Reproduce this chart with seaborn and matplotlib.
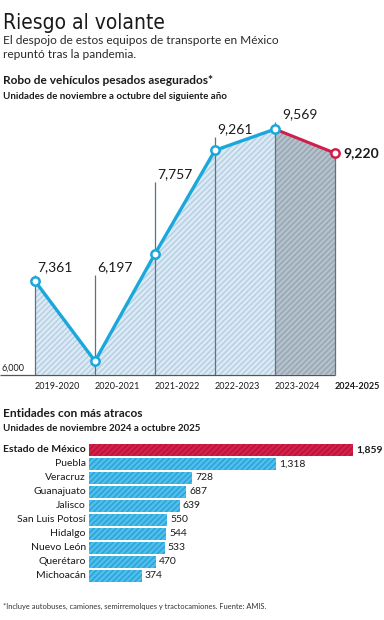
import numpy as np
import pandas as pd
import seaborn as sns
import matplotlib
matplotlib.use("Agg")
import matplotlib.pyplot as plt

# ---------------- data ----------------
periods = ["2019-2020", "2020-2021", "2021-2022", "2022-2023", "2023-2024", "2024-2025"]
robos = [7361, 6197, 7757, 9261, 9569, 9220]
robo_labels = ["7,361", "6,197", "7,757", "9,261", "9,569", "9,220"]

states = ["Estado de México", "Puebla", "Veracruz", "Guanajuato", "Jalisco",
          "San Luis Potosí", "Hidalgo", "Nuevo León", "Querétaro", "Michoacán"]
atracos = [1859, 1318, 728, 687, 639, 550, 544, 533, 470, 374]
atracos_labels = ["1,859", "1,318", "728", "687", "639", "550", "544", "533", "470", "374"]

# ---------------- style ----------------
sns.set_theme(style="white")
plt.rcParams["font.family"] = ["Lato", "DejaVu Sans"]
plt.rcParams["hatch.linewidth"] = 1.0

W, H = 384, 620
fig = plt.figure(figsize=(W / 100, H / 100), dpi=100)
fig.patch.set_facecolor("white")


def fy(px):
    return 1 - px / H


def fx(px):
    return px / W


BLUE = "#1aa7dc"
RED = "#d01f4a"
TXT = "#1a1a1a"

# ---------------- header texts ----------------
fig.text(fx(3), fy(29), "Riesgo al volante", family=["DejaVu Sans"], fontstretch="condensed",
         fontsize=15, color=TXT, va="baseline", ha="left")
fig.text(fx(3), fy(44), "El despojo de estos equipos de transporte en México",
         fontsize=8.6, color="#2a2a2a", va="baseline")
fig.text(fx(3), fy(58), "repuntó tras la pandemia.", fontsize=8.6, color="#2a2a2a", va="baseline")
fig.text(fx(3), fy(84), "Robo de vehículos pesados asegurados*", fontsize=8.6,
         fontweight="bold", color=TXT, va="baseline")
fig.text(fx(3), fy(99), "Unidades de noviembre a octubre del siguiente año", fontsize=7.0,
         fontweight="bold", color=TXT, va="baseline")

fig.text(fx(3), fy(417), "Entidades con más atracos", fontsize=8.6,
         fontweight="bold", color=TXT, va="baseline")
fig.text(fx(3), fy(431), "Unidades de noviembre 2024 a octubre 2025", fontsize=7.0,
         fontweight="bold", color=TXT, va="baseline")
fig.text(fx(3), fy(609), "*Incluye autobuses, camiones, semirremolques y tractocamiones. Fuente: AMIS.",
         fontsize=5.4, color="#333333", va="baseline")

# ---------------- line chart ----------------
ax1 = fig.add_axes([0, fy(400), 1, (400 - 95) / H])
x = np.arange(len(periods))
ax1.set_xlim(-35 / 60, (W - 35) / 60)
ax1.set_ylim(5632, 10065)
ax1.axis("off")

ax1.fill_between(x[:5], 6000, robos[:5], facecolor="#dceaf5", edgecolor="#b3cee2",
                 hatch="//////", linewidth=0, zorder=1)
ax1.fill_between(x[4:], 6000, robos[4:], facecolor="#b5c2cc", edgecolor="#95a5b2",
                 hatch="//////", linewidth=0, zorder=1)

# label offsets above the point (px) and horizontal offsets (px)
lab_up = [6, 86, 72, 13, 7, 0]
lab_dx = [2, 2, 2, 2, 7, 8]
tops = []
for xi, v, up in zip(x, robos, lab_up):
    disp = ax1.transData.transform((xi, v))
    tops.append(ax1.transData.inverted().transform((disp[0], disp[1] + up))[1])
ax1.vlines(x, 6000, tops, color="#5f7282", lw=0.9, zorder=2)
ax1.hlines(6000, ax1.get_xlim()[0], x[-1], color="#555555", lw=0.9, zorder=2)

sns.lineplot(x=x[4:], y=robos[4:], color=RED, lw=2.2, ax=ax1, zorder=3)
sns.lineplot(x=x[:5], y=robos[:5], color=BLUE, lw=2.4, marker="o", markersize=6,
             markerfacecolor="white", markeredgecolor=BLUE, markeredgewidth=1.8, ax=ax1, zorder=4)
ax1.plot([x[-1]], [robos[-1]], marker="o", markersize=6, markerfacecolor="white",
         markeredgecolor=RED, markeredgewidth=1.8, zorder=5)

PT = 72 / 100
for i, (xi, v, lab) in enumerate(zip(x, robos, robo_labels)):
    last = i == len(x) - 1
    ax1.annotate(lab, (xi, v), xytext=(lab_dx[i] * PT, (lab_up[i] + (0 if last else 2)) * PT),
                 textcoords="offset points", ha="left", va="center" if last else "bottom",
                 fontsize=10, fontweight="bold" if last else "normal", color=TXT,
                 annotation_clip=False)
    ax1.annotate(periods[i], (xi, 6000), xytext=(0, -14 * PT), textcoords="offset points",
                 ha="left", va="baseline", fontsize=6.5, color=TXT,
                 fontweight="bold" if last else "normal", annotation_clip=False)
ax1.annotate("6,000", (ax1.get_xlim()[0], 6000), xytext=(2 * PT, 2 * PT), textcoords="offset points",
             ha="left", va="bottom", fontsize=6.5, color=TXT, annotation_clip=False)

# ---------------- bar chart ----------------
ax2 = fig.add_axes([0, fy(590), 1, (590 - 436) / H])
df = pd.DataFrame({"estado": states, "atracos": atracos})
colors = {s: ("#d6204a" if i == 0 else "#4cc0ee") for i, s in enumerate(states)}
sns.barplot(data=df, x="atracos", y="estado", hue="estado", palette=colors, orient="h",
            width=0.86, legend=False, ax=ax2, saturation=1)
for i, p in enumerate(ax2.patches):
    p.set_hatch("//////")
    p.set_edgecolor("#b3143b" if i == 0 else "#2f9fd2")
    p.set_linewidth(0)
ax2.set_xlim(-88.8 / 0.1421, (W - 88.8) / 0.1421)
ax2.set_ylim(10, -1)
ax2.axis("off")
for i, (s, v, lab) in enumerate(zip(states, atracos, atracos_labels)):
    first = i == 0
    ax2.annotate(s, (0, i), xytext=(-3 * PT, 0), textcoords="offset points", ha="right",
                 va="center", fontsize=7.5, fontweight="bold" if first else "normal", color=TXT,
                 annotation_clip=False)
    ax2.annotate(lab, (v, i), xytext=(3 * PT, 0), textcoords="offset points", ha="left",
                 va="center", fontsize=7.5, fontweight="bold" if first else "normal", color=TXT,
                 annotation_clip=False)

fig.savefig("out.png", dpi=100)
